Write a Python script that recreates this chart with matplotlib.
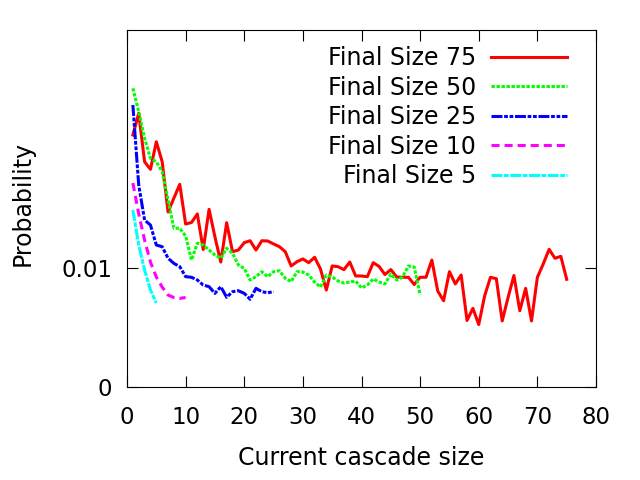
import matplotlib
matplotlib.use("Agg")
import matplotlib.pyplot as plt
import numpy as np

plt.rcParams['font.family'] = ['DejaVu Sans']
plt.rcParams['lines.scale_dashes'] = False

size75 = [0.02118, 0.02300, 0.01893, 0.01829, 0.02061, 0.01893, 0.01471, 0.01588, 0.01703, 0.01370,
          0.01382, 0.01454, 0.01155, 0.01493, 0.01261, 0.01050, 0.01381, 0.01137, 0.01151, 0.01213,
          0.01229, 0.01151, 0.01229, 0.01227, 0.01202, 0.01179, 0.01137, 0.01017, 0.01053, 0.01076,
          0.01045, 0.01090, 0.00992, 0.00815, 0.01017, 0.01011, 0.00986, 0.01050, 0.00933, 0.00933,
          0.00927, 0.01045, 0.01013, 0.00945, 0.00987, 0.00924, 0.00922, 0.00922, 0.00861, 0.00922,
          0.00922, 0.01067, 0.00807, 0.00725, 0.00969, 0.00866, 0.00941, 0.00559, 0.00661, 0.00525,
          0.00765, 0.00922, 0.00910, 0.00555, 0.00752, 0.00937, 0.00641, 0.00829, 0.00555, 0.00922,
          0.01034, 0.01157, 0.01082, 0.01098, 0.00905]
size50 = [0.02510, 0.02313, 0.02090, 0.01922, 0.01893, 0.01809, 0.01571, 0.01334, 0.01334, 0.01269,
          0.01067, 0.01208, 0.01193, 0.01151, 0.01109, 0.01082, 0.01166, 0.01124, 0.01025, 0.00997,
          0.00899, 0.00927, 0.00969, 0.00927, 0.00969, 0.00977, 0.00913, 0.00885, 0.00969, 0.00966,
          0.00941, 0.00882, 0.00840, 0.00941, 0.00924, 0.00891, 0.00874, 0.00882, 0.00891, 0.00832,
          0.00857, 0.00908, 0.00882, 0.00866, 0.00950, 0.00899, 0.00924, 0.01017, 0.01008, 0.00773]
size25 = [0.02370, 0.01697, 0.01403, 0.01361, 0.01193, 0.01179, 0.01082, 0.01039, 0.01011, 0.00927,
          0.00922, 0.00899, 0.00857, 0.00843, 0.00787, 0.00843, 0.00754, 0.00801, 0.00809, 0.00787,
          0.00737, 0.00829, 0.00801, 0.00792, 0.00801]
size10 = [0.01714, 0.01454, 0.01235, 0.01050, 0.00924, 0.00840, 0.00773, 0.00752, 0.00745, 0.00752]
size5 = [0.01487, 0.01193, 0.00983, 0.00815, 0.00706]

labels = ["Final Size 75", "Final Size 50", "Final Size 25", "Final Size 10", "  Final Size 5"]
colors = ["#ff0000", "#00ff00", "#0000ff", "#ff00ff", "#00ffff"]
dashes = [None, (2.4, 1.2), (7.9, 1.2, 2.7, 1.2, 2.7, 1.2), (5.8, 3.6), (7.9, 1.1, 3.4, 1.1)]
series = [size75, size50, size25, size10, size5]

fig = plt.figure(figsize=(6.4, 4.8), dpi=100)
ax = fig.add_axes([127/640, 1-387/480, (596-127)/640, (387-30)/480])

for vals, lab, col, d in zip(series, labels, colors, dashes):
    x = np.arange(1, len(vals) + 1)
    line, = ax.plot(x, vals, color=col, lw=2.2, label=lab)
    if d is not None:
        line.set_dashes(d)

ax.set_xlim(0, 80)
ax.set_ylim(0, 0.03)
ax.set_xticks(np.arange(0, 81, 10))
ax.set_yticks([0, 0.01])
ax.set_yticklabels(["0", "0.01"])
ax.tick_params(direction='in', length=8, width=0.8, labelsize=16.5, top=True, right=True)
ax.tick_params(axis='x', pad=14)
ax.tick_params(axis='y', pad=10.5)
for s in ax.spines.values():
    s.set_linewidth(0.8)

ax.set_xlabel("Current cascade size", fontsize=17, labelpad=12)
ax.set_ylabel("Probability", fontsize=17)
ax.yaxis.set_label_coords(-0.196, 0.515)

leg = ax.legend(loc='upper right', bbox_to_anchor=((567-127)/469, (387-46)/357),
                frameon=False, markerfirst=False, fontsize=17, handlelength=3.2,
                handletextpad=0.65, labelspacing=0.235, borderpad=0, borderaxespad=0)

fig.savefig("out.png", dpi=100)
